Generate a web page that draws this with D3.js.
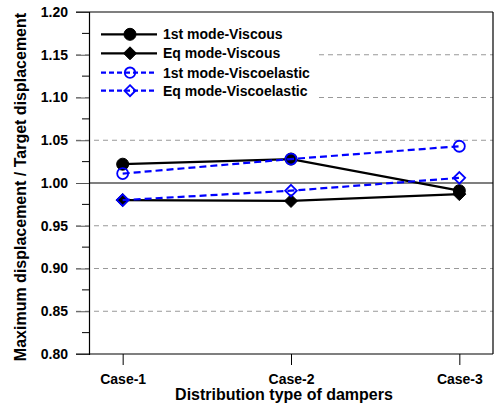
<!DOCTYPE html>
<html><head><meta charset="utf-8">
<script src="https://cdn.jsdelivr.net/npm/d3@7"></script>
<style>body{margin:0;background:#fff}svg{display:block;font-family:"Liberation Sans",Arial,sans-serif;font-weight:bold}</style>
</head><body><svg id="c" width="495" height="407"></svg>
<script>
const categories = ["Case-1","Case-2","Case-3"];
const seriesNames = ["1st mode-Viscous","Eq mode-Viscous","1st mode-Viscoelastic","Eq mode-Viscoelastic"];
const firstViscous = [1.022, 1.028, 0.991];
const eqViscous = [0.980, 0.979, 0.987];
const firstViscoelastic = [1.011, 1.028, 1.043];
const eqViscoelastic = [0.980, 0.991, 1.006];
const yTicks = [0.80,0.85,0.90,0.95,1.00,1.05,1.10,1.15,1.20];
const yMinor = [0.825,0.875,0.925,0.975,1.025,1.075,1.125,1.175];
const gridVals = [0.85,0.90,0.95,1.05,1.10,1.15];

const series = [
  {name: seriesNames[0], values: firstViscous, color:"#000", dash:null, marker:"circle", fill:true},
  {name: seriesNames[1], values: eqViscous, color:"#000", dash:null, marker:"diamond", fill:true},
  {name: seriesNames[2], values: firstViscoelastic, color:"#0000ff", dash:"7,4", marker:"circle", fill:false},
  {name: seriesNames[3], values: eqViscoelastic, color:"#0000ff", dash:"7,4", marker:"diamond", fill:false}
];

const svg = d3.select("#c");
const L=89, R=493, T=12, B=354;
const x = d3.scalePoint().domain(categories).range([L,R]).padding(0.2);
const y = d3.scaleLinear().domain([0.8,1.2]).range([B,T]);

// grid
svg.append("g").selectAll("line").data(gridVals).join("line")
  .attr("x1",76).attr("x2",R).attr("y1",d=>y(d)).attr("y2",d=>y(d))
  .attr("stroke","#999").attr("stroke-width",1).attr("stroke-dasharray","5,4");
// reference line at 1.00
svg.append("line").attr("x1",L).attr("x2",R).attr("y1",y(1)).attr("y2",y(1))
  .attr("stroke","#000").attr("stroke-width",1.2);

// legend background
svg.append("rect").attr("x",L+1).attr("y",T+1).attr("width",229).attr("height",92).attr("fill","#fff");

// y axis
const yAxis = d3.axisLeft(y).tickValues(yTicks).tickFormat(d3.format(".2f")).tickSize(13).tickPadding(8);
const gy = svg.append("g").attr("transform",`translate(${L},0)`).call(yAxis);
gy.select(".domain").attr("stroke","#000").attr("stroke-width",1.2);
gy.selectAll(".tick line").attr("stroke","#555");
gy.selectAll("text").attr("font-size",14).attr("font-weight","bold").attr("fill","#000").attr("font-family","Liberation Sans, Arial");
svg.append("g").selectAll("line").data(yMinor).join("line")
  .attr("x1",L-7).attr("x2",L).attr("y1",d=>y(d)).attr("y2",d=>y(d)).attr("stroke","#000");

// x axis
const xAxis = d3.axisBottom(x).tickSize(11).tickPadding(9);
const gx = svg.append("g").attr("transform",`translate(0,${B})`).call(xAxis);
gx.select(".domain").remove();
gx.selectAll(".tick line").attr("stroke","#000");
gx.selectAll("text").attr("font-size",14).attr("font-weight","bold").attr("fill","#000").attr("font-family","Liberation Sans, Arial");

// frame
svg.append("line").attr("x1",76).attr("x2",R).attr("y1",B).attr("y2",B).attr("stroke","#000").attr("stroke-width",1.2);
svg.append("line").attr("x1",76).attr("x2",R).attr("y1",T).attr("y2",T).attr("stroke","#000").attr("stroke-width",1.2);
svg.append("line").attr("x1",R).attr("x2",R).attr("y1",T).attr("y2",B).attr("stroke","#000").attr("stroke-width",1.2);

function drawMarker(g, s, cx, cy, scale){
  const k = scale||1;
  if(s.marker==="circle"){
    g.append("circle").attr("cx",cx).attr("cy",cy).attr("r",(s.fill?6:5.5)*k)
      .attr("fill",s.fill?s.color:"none").attr("stroke",s.color).attr("stroke-width",s.fill?1:1.8);
  } else {
    const h=(s.fill?6.5:5.8)*k;
    g.append("path").attr("d",`M${cx},${cy-h}L${cx+h},${cy}L${cx},${cy+h}L${cx-h},${cy}Z`)
      .attr("fill",s.fill?s.color:"none").attr("stroke",s.color).attr("stroke-width",s.fill?1:1.8);
  }
}

const line = d3.line().x((d,i)=>x(categories[i])).y(d=>y(d));
series.forEach(s=>{
  const g = svg.append("g");
  g.append("path").attr("d",line(s.values)).attr("fill","none").attr("stroke",s.color)
    .attr("stroke-width",2.2).attr("stroke-dasharray",s.dash);
  s.values.forEach((v,i)=>drawMarker(g,s,x(categories[i]),y(v)));
});

// legend
const rowY = [34.3,53.3,72.7,90.7];
series.forEach((s,i)=>{
  const g = svg.append("g");
  g.append("line").attr("x1",101).attr("x2",157).attr("y1",rowY[i]).attr("y2",rowY[i])
    .attr("stroke",s.color).attr("stroke-width",2.2).attr("stroke-dasharray",s.dash?"5,3":null);
  drawMarker(g,s,130,rowY[i],s.fill?1:0.95);
  g.append("text").attr("x",163).attr("y",rowY[i]+5).attr("font-size",14).attr("font-weight","bold").text(s.name);
});

// titles
svg.append("text").attr("x",(L+R)/2-7).attr("y",399.5).attr("text-anchor","middle").attr("font-size",16).text("Distribution type of dampers");
svg.append("text").attr("transform","translate(26,187) rotate(-90)").attr("text-anchor","middle").attr("font-size",16).text("Maximum displacement / Target displacement");
</script></body></html>
